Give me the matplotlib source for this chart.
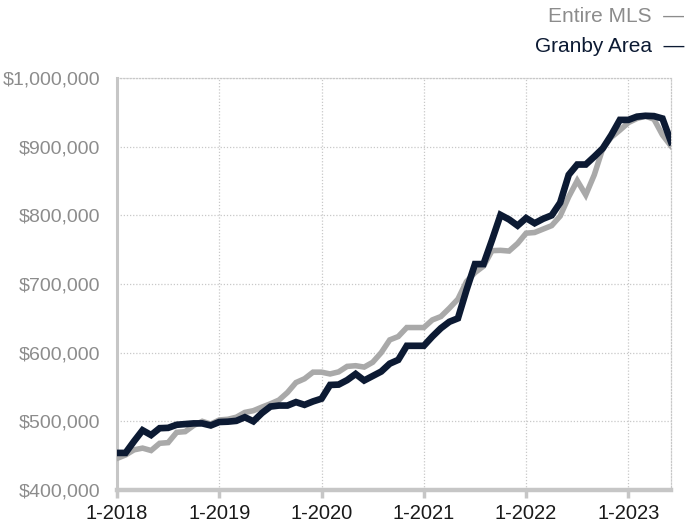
import matplotlib
matplotlib.use("Agg")
import matplotlib.pyplot as plt
import numpy as np

plt.rcParams['font.family'] = ['Liberation Sans', 'DejaVu Sans']

# Monthly, Jan 2018 .. Jun 2023
start_year = 2018
n_months = 66
granby = [454000, 454000, 471000, 487000, 480000, 490000, 490500, 495000, 496000, 497000,
          497000, 494000, 499000, 499500, 500700, 506000, 500000, 512000, 521500, 523000,
          523000, 528000, 524000, 529000, 533000, 553000, 553500, 560000, 569000, 559500,
          566000, 572500, 584000, 589500, 610000, 610000, 610000, 623500, 635600, 645000,
          650000, 691000, 729000, 729000, 764000, 800600, 794000, 785000, 796000, 788500,
          795000, 800000, 818500, 859000, 874000, 874000, 885500, 897600, 917000, 939000,
          939000, 943700, 945000, 944500, 941000, 907000]
entire_mls = [446000, 451000, 458500, 461000, 457500, 468000, 469000, 484000, 485000, 494000,
              500000, 496000, 502000, 503000, 506000, 513000, 515500, 520700, 525500, 531000,
              542000, 556500, 562000, 571600, 571600, 569000, 572000, 580000, 581000, 579000,
              586000, 600000, 618600, 623500, 636600, 636600, 636600, 647700, 652600, 664800,
              678000, 703500, 716600, 726000, 748600, 749000, 748000, 759000, 774000, 775000,
              780000, 785000, 799000, 827000, 850500, 829700, 859000, 897600, 913700, 924000,
              935000, 941000, 944500, 940000, 917000, 901000]
x_tick_labels = ['1-2018', '1-2019', '1-2020', '1-2021', '1-2022', '1-2023']
y_ticks = [400000, 500000, 600000, 700000, 800000, 900000, 1000000]
series_names = ['Entire MLS', 'Granby Area']

navy = '#0c1a33'
gray_line = '#a9a9a9'
spine_col = '#c6c6c6'

fig = plt.figure(figsize=(6.88, 5.25), dpi=100)
ax = fig.add_axes([117/688, 1-490/525, (671-117)/688, (490-78)/525])

x = np.arange(n_months)
ax.plot(x, entire_mls, color=gray_line, lw=4.0, solid_joinstyle='miter', zorder=3)
ax.plot(x, granby, color=navy, lw=4.8, solid_joinstyle='miter', zorder=4)

ax.set_xlim(0, n_months - 1)
ax.set_ylim(400000, 1000000)

xt = [12 * i for i in range(len(x_tick_labels))]
ax.set_xticks(xt)
ax.set_xticklabels(x_tick_labels, fontsize=14.5, color='#1a1a1a')
ax.set_yticks(y_ticks)
ax.set_yticklabels(['${:,.0f}'.format(v) for v in y_ticks], fontsize=14, color='#8c8c8c')

ax.tick_params(axis='y', length=0, pad=12)
ax.tick_params(axis='x', length=6, width=2.5, color=spine_col, pad=4)

ax.grid(True, linestyle=(0, (1, 1.5)), color='#c8c8c8', lw=0.9, zorder=0)

for s in ['top', 'right']:
    ax.spines[s].set_linestyle((0, (1, 1.5)))
    ax.spines[s].set_color('#c8c8c8')
    ax.spines[s].set_linewidth(0.9)
ax.spines['left'].set_color(spine_col)
ax.spines['left'].set_linewidth(2.2)
ax.spines['bottom'].set_color(spine_col)
ax.spines['bottom'].set_linewidth(3.2)
ax.spines['bottom'].set_zorder(5)

# legend as right-aligned text
fig.text(684/688, 1-16/525, series_names[0] + '  \u2014', ha='right', va='center',
         fontsize=15, color='#8c8c8c')
fig.text(684/688, 1-47/525, series_names[1] + '  \u2014', ha='right', va='center',
         fontsize=15, color=navy)

fig.savefig('out.png', dpi=100)
